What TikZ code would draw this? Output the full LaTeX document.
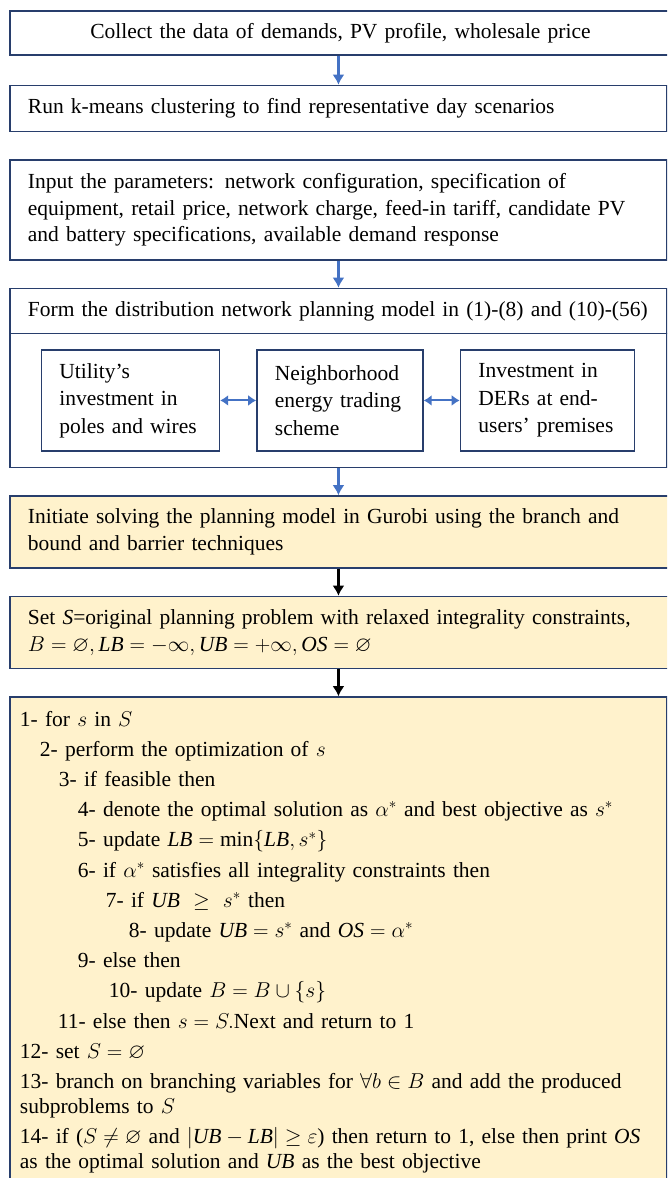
\RequirePackage{fix-cm}
\documentclass[tikz,border=0pt]{standalone}
\usepackage{amssymb}
\usepackage{fontspec}
\setmainfont{Liberation Serif}
\usetikzlibrary{arrows.meta,positioning}

\definecolor{boxline}{RGB}{40,62,108}
\definecolor{flowblue}{RGB}{68,114,196}
\definecolor{solvefill}{RGB}{255,242,204}

\begin{document}
\begin{tikzpicture}[x=1pt,y=1pt]
\tikzstyle{block} = [rectangle, draw=boxline, line width=1.5pt, anchor=west,
text width=621pt, inner xsep=18pt, inner ysep=0pt, align=left,
font=\fontsize{21.5}{26.5}\selectfont]
\tikzstyle{block_wide} = [block, text width=625pt]
\tikzstyle{solve} = [block_wide, fill=solvefill]
\tikzstyle{sub} = [rectangle, draw=boxline, line width=1.5pt, minimum height=101pt,
inner xsep=18pt, align=left, font=\fontsize{21.5}{27.5}\selectfont]
\tikzstyle{line} = [draw, line width=2.5pt, -{Latex[length=10pt,width=12pt]}]
\tikzstyle{link} = [draw=flowblue, line width=2pt, {Latex[length=8pt,width=11pt]}-{Latex[length=8pt,width=11pt]}]

\useasboundingbox (0,0) rectangle (667,-1178);
\clip (0,0) rectangle (667,-1178);

\matrix [anchor=north west, inner sep=0pt, row sep=27pt] at (9,-10)
{
% data and scenarios
\node [block_wide, align=center, minimum height=44pt] (collect) {Collect the data of demands, PV profile, wholesale price}; \\[2pt]
\node [block, minimum height=46pt] (cluster) {Run k-means clustering to find representative day scenarios}; \\
\node [block, minimum height=100pt] (input) {Input the parameters: network configuration, specification of\\
equipment, retail price, network charge, feed-in tariff, candidate PV\\
and battery specifications, available demand response}; \\
% planning model
\node [block, minimum height=45pt] (model) {\mbox{Form the distribution network planning model in (1)-(8) and (10)-(56)}}; \\[-28.5pt]
\node [block, minimum height=134pt] (frame) {}; \\
% solver
\node [solve, minimum height=72pt] (initiate) {Initiate solving the planning model in Gurobi using the branch and\\
bound and barrier techniques}; \\
\node [solve, minimum height=72pt] (setup) {Set \textit{S}=original planning problem with relaxed integrality constraints,\\
$B=\varnothing, \mathit{LB}=-\infty, \mathit{UB}=+\infty, \mathit{OS}=\varnothing$}; \\
\node [solve, text width=637pt, inner xsep=10pt, inner ysep=14pt,
font=\fontsize{21.5}{25}\selectfont] (bnb) {1- for $s$ in $S$\\[5.2pt]
\hspace*{20pt}2- perform the optimization of $s$\\[5.2pt]
\hspace*{39pt}3- if feasible then\\[5.2pt]
\hspace*{58pt}4- denote the optimal solution as $\alpha^*$ and best objective as $s^*$\\[5.2pt]
\hspace*{58pt}5- update $\mathit{LB}=\min\{\mathit{LB},s^*\}$\\[5.2pt]
\hspace*{58pt}6- if $\alpha^*$ satisfies all integrality constraints then\\[5.2pt]
\hspace*{86pt}7- if $\mathit{UB}\ \geq\ s^*$ then\\[5.2pt]
\hspace*{109pt}8- update $\mathit{UB}=s^*$ and $\mathit{OS}=\alpha^*$\\[5.2pt]
\hspace*{58pt}9- else then\\[5.2pt]
\hspace*{89pt}10- update $B=B\cup\{s\}$\\[5.2pt]
\hspace*{38pt}11- else then $s=S.$Next and return to 1\\[5.2pt]
12- set $S=\varnothing$\\[5.2pt]
13- branch on branching variables for $\forall b\in B$ and add the produced\\
subproblems to $S$\\[5.2pt]
14- if ($S\neq\varnothing$ and $|\mathit{UB}-\mathit{LB}|\geq\varepsilon$) then return to 1, else then print $\mathit{OS}$\\
as the optimal solution and $\mathit{UB}$ as the best objective}; \\
};

% three parts of the planning model
\node [sub, text width=130pt] (trading) at ([xshift=1.5pt]frame.center) {Neighborhood\\ energy trading\\ scheme};
\node [sub, text width=142pt, left=36pt of trading] (utility) {Utility's\\ investment in\\ poles and wires};
\node [sub, text width=138pt, right=36pt of trading] (ders) {Investment in\\ DERs at end-\\ users' premises};

\tikzstyle{every path}=[line]
\path [draw=flowblue] (collect.south -| cluster.north) -- (cluster.north);
\path [draw=flowblue] (input) -- (model);
\path [draw=flowblue] (frame.south) -- (frame.south |- initiate.north);
\path (frame.south |- initiate.south) -- (frame.south |- setup.north);
\path (frame.south |- setup.south) -- (frame.south |- bnb.north);
\path [link] (utility) -- (trading);
\path [link] (trading) -- (ders);
\end{tikzpicture}
\end{document}
